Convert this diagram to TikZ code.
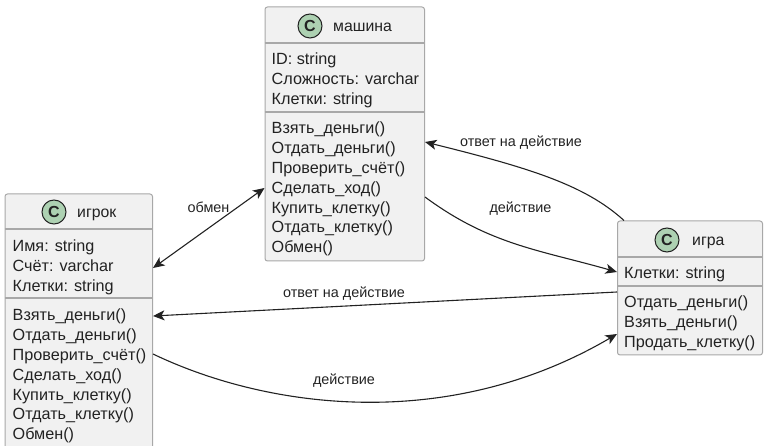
\documentclass[tikz,border=0pt]{standalone}
\usepackage{fontspec}
\setmainfont{Liberation Sans}
\usetikzlibrary{arrows.meta}
\definecolor{boxfill}{HTML}{F1F1F1}
\definecolor{boxline}{HTML}{A8A8A8}
\definecolor{spot}{HTML}{ADD1B2}
\definecolor{ink}{HTML}{222222}
\tikzset{
  x=1pt,y=-1pt,
  classbox/.style={draw=boxline,fill=boxfill,line width=1pt,rounded corners=2.5pt,anchor=north west,inner sep=0pt,minimum width=#1},
  sepline/.style={draw=boxline,line width=1.4pt},
  spotc/.style={circle,draw=ink,fill=spot,line width=1pt,minimum size=24pt,inner sep=0pt,font=\fontsize{16}{16}\selectfont\bfseries,text=ink},
  title/.style={anchor=base west,inner sep=0pt,font=\fontsize{15.8}{16}\selectfont,text=ink},
  members/.style={anchor=north west,inner sep=0pt,align=left,text=ink,font=\fontsize{16.2}{19.9}\selectfont},
  lbl/.style={inner sep=0pt,text=ink,font=\fontsize{14.4}{15}\selectfont},
  link/.style={draw=ink,line width=1.1pt,-{Stealth[length=11.5pt,width=10pt,inset=3pt]}},
  dlink/.style={draw=ink,line width=1.1pt,{Stealth[length=11.5pt,width=10pt,inset=3pt]}-{Stealth[length=11.5pt,width=10pt,inset=3pt]}}
}
\begin{document}
\begin{tikzpicture}
\useasboundingbox (0,0) rectangle (769,446);
\clip (0,0) rectangle (769,446);
% boxes
\node[classbox=147.5pt,minimum height=262pt] (igrok) at (4.5,193.5) {};
\node[classbox=159.5pt,minimum height=254pt] (mash) at (264.5,6.5) {};
\node[classbox=145pt,minimum height=134pt] (igra) at (617,220.5) {};
% separators
\draw[sepline] ([yshift=-35.5pt]igrok.north west) -- ([yshift=-35.5pt]igrok.north east);
\draw[sepline] ([yshift=-104.5pt]igrok.north west) -- ([yshift=-104.5pt]igrok.north east);
\draw[sepline] ([yshift=-36.5pt]mash.north west) -- ([yshift=-36.5pt]mash.north east);
\draw[sepline] ([yshift=-105.5pt]mash.north west) -- ([yshift=-105.5pt]mash.north east);
\draw[sepline] ([yshift=-36.5pt]igra.north west) -- ([yshift=-36.5pt]igra.north east);
\draw[sepline] ([yshift=-65.5pt]igra.north west) -- ([yshift=-65.5pt]igra.north east);
% headers
\node[spotc] (c1) at (54,212) {C};
\node[title] (t1) at (77,218) {игрок};
\node[spotc] (c2) at (310,26) {C};
\node[title] (t2) at (333,32) {машина};
\node[spotc] (c3) at (667,240) {C};
\node[title] (t3) at (692,246) {игра};
% members
\node[members] (a1) at (12.5,239.5) {Имя: string\\Счёт: varchar\\Клетки: string};
\node[members] (m1) at (12.5,308.5) {Взять\_деньги()\\Отдать\_деньги()\\Проверить\_счёт()\\Сделать\_ход()\\Купить\_клетку()\\Отдать\_клетку()\\Обмен()};
\node[members] (a2) at (271.5,52.5) {ID: string\\Сложность: varchar\\Клетки: string};
\node[members] (m2) at (271.5,121.5) {Взять\_деньги()\\Отдать\_деньги()\\Проверить\_счёт()\\Сделать\_ход()\\Купить\_клетку()\\Отдать\_клетку()\\Обмен()};
\node[members] (a3) at (624,266.5) {Клетки: string};
\node[members] (m3) at (624,295.5) {Отдать\_деньги()\\Взять\_деньги()\\Продать\_клетку()};
% connectors
\draw[dlink] ([yshift=-74.5pt]igrok.north east) -- ([yshift=-181.5pt]mash.north west);
\draw[link] ([yshift=-190.5pt]mash.north east) .. controls (490,245) and (540,250) .. ([yshift=-51.5pt]igra.north west);
\draw[link] ([xshift=7pt]igra.north west) .. controls (585,185) and (530,168) .. ([yshift=-135.5pt]mash.north east);
\draw[link] ([yshift=-71.5pt]igra.north west) -- ([yshift=-122.5pt]igrok.north east);
\draw[link] ([yshift=-160.5pt]igrok.north east) .. controls (270,410) and (450,432) .. ([yshift=-113.5pt]igra.north west);
% labels
\node[lbl] (l1) at (208.5,207) {обмен};
\node[lbl] (l2) at (521,143) {ответ на действие};
\node[lbl] (l3) at (520.5,208.5) {действие};
\node[lbl] (l4) at (344,293.5) {ответ на действие};
\node[lbl] (l5) at (344,381) {действие};
\end{tikzpicture}
\end{document}
